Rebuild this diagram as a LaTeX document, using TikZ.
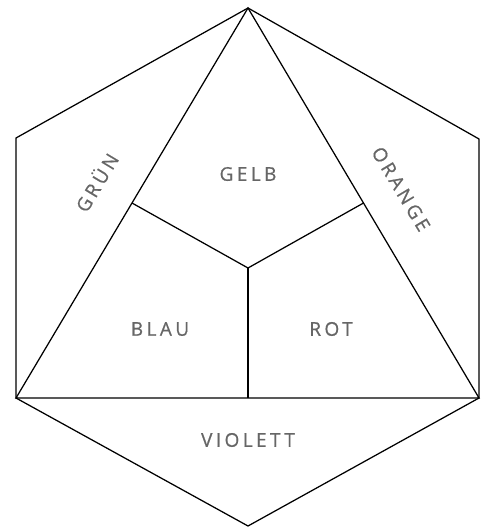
\documentclass[tikz,border=0pt]{standalone}
\usepackage{fontspec}
\newfontfamily\labfont[LetterSpace=18,FakeBold=0.6]{Open Sans}
\begin{document}
\begin{tikzpicture}[x=1pt,y=-1pt,
  edge/.style={draw=black,line width=1.25pt,line join=miter},
  lab/.style={font=\labfont\fontsize{19}{22}\selectfont,text=black!60,inner sep=0pt}]
\useasboundingbox (0,0) rectangle (480,527);
% hexagon corners
\coordinate (T) at (248,8);
\coordinate (UR) at (479,139);
\coordinate (LR) at (479,398);
\coordinate (B) at (248,526);
\coordinate (LL) at (16,398);
\coordinate (UL) at (16,138);
\coordinate (C) at (248,268);
\coordinate (ML) at (132,203);
\coordinate (MR) at (363.5,203);
\coordinate (MB) at (248,398);
\draw[edge] (T) -- (UR) -- (LR) -- (B) -- (LL) -- (UL) -- cycle;
\draw[edge] (T) -- (LR) -- (LL) -- cycle;
\draw[edge] (C) -- (ML);
\draw[edge] (C) -- (MR);
\draw[edge] (C) -- (MB);
\node[lab] (gelb) at (248,174) {GELB};
\node[lab] (blau) at (160,329) {BLAU};
\node[lab] (rot) at (331,329) {ROT};
\node[lab] (violett) at (248,440) {VIOLETT};
\node[lab,rotate=59] (gruen) at (96,182) {GRÜN};
\node[lab,rotate=-59] (orange) at (401,189) {ORANGE};
\end{tikzpicture}
\end{document}
